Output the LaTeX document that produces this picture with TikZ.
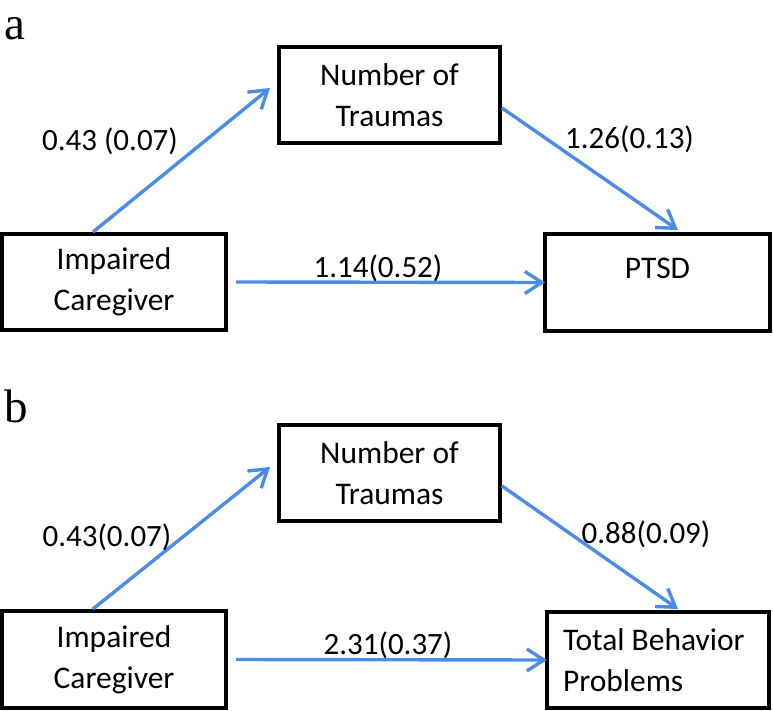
\documentclass[tikz,border=0pt]{standalone}
\usepackage{fontspec}
\setmainfont{Carlito}
\newfontfamily\panelfont{Liberation Serif}
\usetikzlibrary{arrows.meta}
\definecolor{arrowblue}{HTML}{4A8CE6}
\begin{document}
\begin{tikzpicture}[x=1pt,y=-1pt,
  box/.style={draw=black,line width=4pt,rectangle,align=center,inner sep=0pt,
    font=\fontsize{31.5}{41}\selectfont},
  path/.style={draw=arrowblue,line width=3.4pt,-{Straight Barb[length=17pt,width=22pt]}},
  coef/.style={anchor=base,inner sep=0pt,font=\fontsize{31}{41}\selectfont},
  panel/.style={anchor=base west,inner sep=0pt,font=\panelfont\fontsize{47}{50}\selectfont}]
\useasboundingbox (0,0) rectangle (773,711);
% panel a
\node[panel] (la) at (4,40) {a};
\node[box,minimum width=221pt,minimum height=96pt] (numA) at (389.5,95) {Number of\\Traumas};
\node[box,minimum width=224pt,minimum height=96pt] (impA) at (114,282) {Impaired\\Caregiver};
\node[box,minimum width=225pt,minimum height=97pt] (ptsdA) at (657.5,282.5) {\raisebox{14pt}[\height][\depth]{PTSD}};
\draw[path] ([xshift=-21pt]impA.north) -- ([xshift=-7pt,yshift=7pt]numA.west);
\draw[path] ([yshift=-13pt]numA.east) -- ([xshift=20.5pt,yshift=2pt]ptsdA.north);
\draw[path] ([xshift=8pt]impA.east) -- ([xshift=2pt]ptsdA.west);
\node[coef] (ca1) at (110,151) {0.43 (0.07)};
\node[coef] (ca2) at (629.5,149) {1.26(0.13)};
\node[coef] (ca3) at (378,277) {1.14(0.52)};
% panel b
\node[panel] (lb) at (4,422) {b};
\node[box,minimum width=221pt,minimum height=96pt] (numB) at (389.5,473) {Number of\\Traumas};
\node[box,minimum width=224pt,minimum height=97pt] (impB) at (114,659.5) {Impaired\\Caregiver};
\node[box,minimum width=222pt,minimum height=96pt,align=flush left,text width=190pt] (tbpB) at (658,660) {Total Behavior\\Problems};
\draw[path] ([xshift=-21pt]impB.north) -- ([xshift=-7pt,yshift=6pt]numB.west);
\draw[path] ([yshift=-13pt]numB.east) -- ([xshift=20pt,yshift=1pt]tbpB.north);
\draw[path] ([xshift=8pt]impB.east) -- ([xshift=2pt]tbpB.west);
\node[coef] (cb1) at (107,546) {0.43(0.07)};
\node[coef] (cb2) at (646,543) {0.88(0.09)};
\node[coef] (cb3) at (388,654) {2.31(0.37)};
\end{tikzpicture}
\end{document}
